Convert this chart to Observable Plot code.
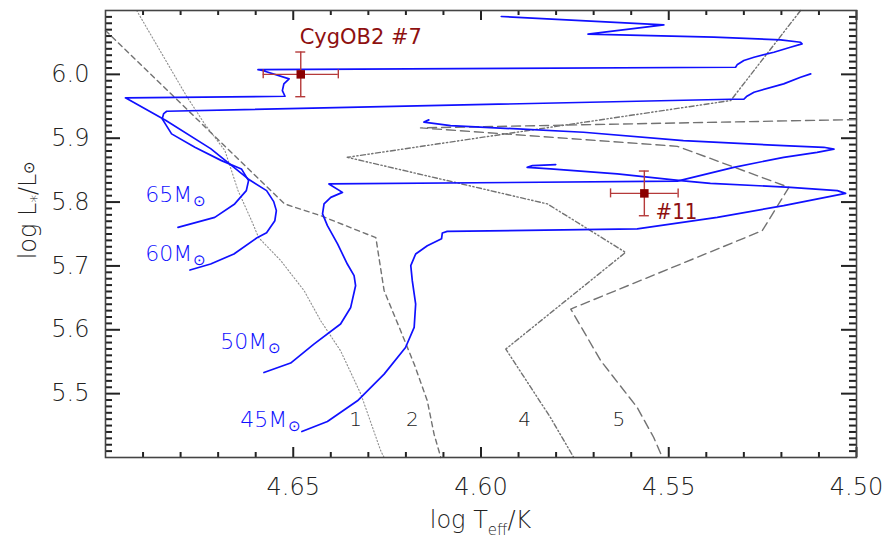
<!DOCTYPE html>
<html><head><meta charset="utf-8">
<script src="https://cdn.jsdelivr.net/npm/d3@7"></script>
<script src="https://cdn.jsdelivr.net/npm/@observablehq/plot@0.6"></script>
<style>html,body{margin:0;padding:0;background:#fff;}</style>
</head><body><div id="chart"></div>
<script>
// ---- data: [log Teff, log L] ----
const track65 = [[4.6807,5.7604],[4.6709,5.7761],[4.6656,5.7971],[4.6625,5.8179],[4.6619,5.8336],[4.6638,5.8519],[4.6691,5.8649],[4.6762,5.8858],[4.6824,5.9068],[4.6849,5.9303],[4.6845,5.9386],[4.6837,5.9422],[4.5335,5.9610],[4.5300,5.9610],[4.5293,5.9652],[4.5273,5.9720],[4.5194,5.9851],[4.5149,5.9955],[4.5122,6.0008]];
const track60 = [[4.6775,5.6936],[4.6720,5.7030],[4.6658,5.7187],[4.6595,5.7447],[4.6571,5.7521],[4.6549,5.7709],[4.6545,5.7866],[4.6552,5.8007],[4.6571,5.8179],[4.6620,5.8362],[4.6720,5.8837],[4.6839,5.9276],[4.6947,5.9632],[4.6522,5.9657],[4.6529,5.9746],[4.6525,5.9851],[4.6511,5.9930],[4.6582,6.0060],[4.6594,6.0075],[4.5322,6.0111],[4.5318,6.0149],[4.5300,6.0216],[4.5273,6.0268],[4.5220,6.0346],[4.5176,6.0425],[4.5145,6.0478],[4.5149,6.0503],[4.5202,6.0541],[4.5380,6.0582],[4.5715,6.0629],[4.5513,6.0776],[4.5946,6.0906]];
const track50 = [[4.6578,5.5331],[4.6507,5.5479],[4.6445,5.5776],[4.6374,5.6090],[4.6347,5.6350],[4.6334,5.6690],[4.6338,5.6847],[4.6356,5.7030],[4.6382,5.7344],[4.6409,5.7631],[4.6422,5.7814],[4.6418,5.7971],[4.6400,5.8074],[4.6369,5.8152],[4.6405,5.8284],[4.5477,5.8328],[4.5327,5.8544],[4.5194,5.8701],[4.5105,5.8779],[4.5060,5.8829],[4.5087,5.8858],[4.5194,5.8884],[4.5461,5.8963],[4.5727,5.9093],[4.6081,5.9198],[4.6152,5.9253],[4.6139,5.9287]];
const track45 = [[4.6477,5.4407],[4.6409,5.4564],[4.6329,5.4888],[4.6258,5.5306],[4.6201,5.5723],[4.6178,5.6037],[4.6174,5.6403],[4.6183,5.6769],[4.6187,5.7004],[4.6174,5.7187],[4.6143,5.7317],[4.6105,5.7427],[4.6103,5.7516],[4.6090,5.7541],[4.5584,5.7579],[4.5371,5.7761],[4.5194,5.7944],[4.5029,5.8137],[4.5051,5.8179],[4.5176,5.8231],[4.5389,5.8293],[4.5468,5.8336],[4.5637,5.8441],[4.5815,5.8519],[4.5877,5.8544],[4.5863,5.8571],[4.5801,5.8587]];
const iso1 = [[4.6917,6.10],[4.6784,5.9657],[4.6736,5.9224],[4.6682,5.8806],[4.6647,5.8179],[4.6611,5.7709],[4.6592,5.7442],[4.6533,5.7082],[4.6471,5.6612],[4.6427,5.6142],[4.6374,5.5672],[4.6320,5.4993],[4.6267,5.4104],[4.6258,5.40]];
const iso2 = [[4.70,6.0687],[4.6523,5.7971],[4.6427,5.7787],[4.6280,5.7442],[4.6258,5.6612],[4.6214,5.5985],[4.6178,5.5463],[4.6143,5.4888],[4.6125,5.4366],[4.6107,5.40]];
const iso4 = [[4.5149,6.10],[4.5335,5.9590],[4.6356,5.8701],[4.5823,5.7971],[4.5615,5.7212],[4.5934,5.5698],[4.5815,5.4626],[4.5753,5.40]];
const iso5 = [[4.50,5.9292],[4.6161,5.9162],[4.5477,5.8873],[4.5180,5.8231],[4.5251,5.7552],[4.5761,5.6325],[4.5681,5.5515],[4.5584,5.4783],[4.5540,5.4313],[4.5517,5.40]];

const massNames = ["65", "60", "50", "45"];
const massLabelT = [4.6769, 4.6769, 4.6569, 4.6516];
const massLabelL = [5.7996, 5.7082, 5.5698, 5.4480];

const isoNames = ["1", "2", "4", "5"];
const isoLabelT = [4.6334, 4.6183, 4.5884, 4.5633];
const isoLabelL = [5.460, 5.460, 5.460, 5.460];

const starNames = ["CygOB2 #7", "#11"];
const starT = [4.648, 4.5565];
const starL = [6.000, 5.8136];
const starErrT = [0.010, 0.009];
const starErrL = [0.035, 0.035];
const starLabelT = [4.6483, 4.5535];
const starLabelL = [6.0478, 5.7736];

const xTickValues = [4.65, 4.60, 4.55, 4.50];
const xMinorTicks = [4.69, 4.68, 4.67, 4.66, 4.64, 4.63, 4.62, 4.61, 4.59, 4.58, 4.57, 4.56, 4.54, 4.53, 4.52, 4.51];
const yTickValues = [5.5, 5.6, 5.7, 5.8, 5.9, 6.0];
const yMinorTicks = [5.41,5.42,5.43,5.44,5.45,5.46,5.47,5.48,5.49,5.51,5.52,5.53,5.54,5.55,5.56,5.57,5.58,5.59,5.61,5.62,5.63,5.64,5.65,5.66,5.67,5.68,5.69,5.71,5.72,5.73,5.74,5.75,5.76,5.77,5.78,5.79,5.81,5.82,5.83,5.84,5.85,5.86,5.87,5.88,5.89,5.91,5.92,5.93,5.94,5.95,5.96,5.97,5.98,5.99,6.01,6.02,6.03,6.04,6.05,6.06,6.07,6.08,6.09];

// ---- layout ----
const W = 886, H = 539, mL = 105, mR = 30, mT = 10, mB = 82;
const xDomain = [4.70, 4.50], yDomain = [5.40, 6.10];
const pxY = (H - mT - mB) / (yDomain[1] - yDomain[0]);
const pxX = (W - mL - mR) / (xDomain[0] - xDomain[1]);
const FONT = "'DejaVu Sans', sans-serif";
const BLUE = "#1010ff";
const DARKRED = "#8b0000";
const ERR = "#b53a3a";
const GREY = "#727272";
const AX = "#222";
const TXT = "#222";

const toRows = (pts, name) => pts.map(([x, y]) => ({x, y, name}));
const tracks = [
  ...toRows(track65, "65"), ...toRows(track60, "60"),
  ...toRows(track50, "50"), ...toRows(track45, "45")
];
const massLabels = massNames.map((n, i) => ({t: n + "M", x: massLabelT[i], y: massLabelL[i]}));
const isoLabels = isoNames.map((n, i) => ({t: n, x: isoLabelT[i], y: isoLabelL[i]}));
const stars = starNames.map((n, i) => ({n, T: starT[i], L: starL[i], eT: starErrT[i], eL: starErrL[i], lx: starLabelT[i], ly: starLabelL[i]}));

const capY = 4.5 / pxY, capX = 5 / pxX;

// tick rows: value + length in px, converted to the other axis' data units
const ticksBottom = [...xMinorTicks.map(v => ({v, l: 5})), ...xTickValues.map(v => ({v, l: 10}))];
const ticksLeft = [...yMinorTicks.map(v => ({v, l: 7})), ...yTickValues.map(v => ({v, l: 15}))];

const plot = Plot.plot({
  width: W, height: H,
  marginLeft: mL, marginRight: mR, marginTop: mT, marginBottom: mB,
  x: {domain: xDomain},
  y: {domain: yDomain},
  style: {fontFamily: FONT, fontSize: "24px", fontWeight: 200, color: TXT, background: "#fff"},
  marks: [
    // inward ticks on all four sides (drawn first, underneath data)
    Plot.ruleX(ticksBottom, {x: "v", y1: d => yDomain[0], y2: d => yDomain[0] + d.l / pxY, stroke: AX, strokeWidth: 2}),
    Plot.ruleX(ticksBottom, {x: "v", y1: d => yDomain[1], y2: d => yDomain[1] - d.l / pxY, stroke: AX, strokeWidth: 2}),
    Plot.ruleY(ticksLeft, {y: "v", x1: d => xDomain[0], x2: d => xDomain[0] - d.l / pxX, stroke: AX, strokeWidth: 2}),
    Plot.ruleY(ticksLeft, {y: "v", x1: d => xDomain[1], x2: d => xDomain[1] + d.l / pxX, stroke: AX, strokeWidth: 2}),
    Plot.line(iso1, {x: d => d[0], y: d => d[1], stroke: "#8f8f8f", strokeWidth: 1.1, strokeDasharray: "1.2,2.2"}),
    Plot.line(iso2, {x: d => d[0], y: d => d[1], stroke: GREY, strokeWidth: 1.4, strokeDasharray: "5,4"}),
    Plot.line(iso4, {x: d => d[0], y: d => d[1], stroke: GREY, strokeWidth: 1.4, strokeDasharray: "5,2.5,1.3,2.5,1.3,2.5"}),
    Plot.line(iso5, {x: d => d[0], y: d => d[1], stroke: GREY, strokeWidth: 1.4, strokeDasharray: "9,5"}),
    Plot.line(tracks, {x: "x", y: "y", z: "name", stroke: BLUE, strokeWidth: 1.7, strokeLinejoin: "round"}),
    // error bars with caps
    Plot.ruleY(stars, {y: "L", x1: d => d.T - d.eT, x2: d => d.T + d.eT, stroke: ERR, strokeWidth: 1.4}),
    Plot.ruleX(stars, {x: "T", y1: d => d.L - d.eL, y2: d => d.L + d.eL, stroke: ERR, strokeWidth: 1.4}),
    Plot.ruleX(stars, {x: d => d.T - d.eT, y1: d => d.L - capY, y2: d => d.L + capY, stroke: ERR, strokeWidth: 1.4}),
    Plot.ruleX(stars, {x: d => d.T + d.eT, y1: d => d.L - capY, y2: d => d.L + capY, stroke: ERR, strokeWidth: 1.4}),
    Plot.ruleY(stars, {y: d => d.L - d.eL, x1: d => d.T - capX, x2: d => d.T + capX, stroke: ERR, strokeWidth: 1.4}),
    Plot.ruleY(stars, {y: d => d.L + d.eL, x1: d => d.T - capX, x2: d => d.T + capX, stroke: ERR, strokeWidth: 1.4}),
    Plot.dot(stars, {x: "T", y: "L", symbol: "square", r: 4.8, fill: DARKRED, stroke: "none"}),
    Plot.text(stars.slice(0, 1), {x: "lx", y: "ly", text: "n", textAnchor: "start", lineAnchor: "bottom", fill: "#8e1010", fontSize: 21, fontFamily: FONT, fontWeight: 400}),
    Plot.text(stars.slice(1), {x: "lx", y: "ly", text: "n", textAnchor: "start", lineAnchor: "bottom", fill: "#8e1010", fontSize: 22, fontFamily: "'DejaVu Sans Condensed', 'DejaVu Sans', sans-serif", fontWeight: 400}),
    Plot.text(massLabels, {x: "x", y: "y", text: "t", textAnchor: "end", lineAnchor: "bottom", fill: BLUE, fontSize: 22, fontFamily: FONT, fontWeight: 200}),
    Plot.text(massLabels, {x: "x", y: "y", text: () => "\u2299", textAnchor: "start", lineAnchor: "bottom", dx: 1, dy: 4, fill: BLUE, fontSize: 15, fontFamily: FONT}),
    Plot.text(isoLabels, {x: "x", y: "y", text: "t", fill: TXT, fontSize: 20, fontFamily: FONT, fontWeight: 200}),
    Plot.frame({stroke: "#444", strokeWidth: 1.6}),
    Plot.axisX({anchor: "bottom", ticks: xTickValues, tickSize: 0, tickPadding: 20, tickFormat: d => d.toFixed(2), label: null, fill: TXT}),
    Plot.axisY({anchor: "left", ticks: yTickValues, tickSize: 0, tickPadding: 16, tickFormat: d => d.toFixed(1), label: null, fill: TXT})
  ]
});

document.getElementById("chart").appendChild(plot);

const svg = d3.select(plot);
// axis titles with sub/superscripts
const xt = svg.append("text")
  .attr("x", mL + (W - mL - mR) / 2).attr("y", 528)
  .attr("text-anchor", "middle").attr("fill", TXT)
  .style("font-family", FONT).style("font-size", "24px").style("font-weight", 200);
xt.append("tspan").text("log T");
xt.append("tspan").attr("dy", 7).style("font-size", "15px").text("eff");
xt.append("tspan").attr("dy", -7).text("/K");

const yt = svg.append("text")
  .attr("transform", "translate(36,210) rotate(-90)")
  .attr("text-anchor", "middle").attr("fill", TXT)
  .style("font-family", FONT).style("font-size", "24px").style("font-weight", 200);
yt.append("tspan").text("log L");
yt.append("tspan").attr("dy", 6).style("font-size", "15px").text("*");
yt.append("tspan").attr("dy", -6).text("/L");
yt.append("tspan").attr("dy", -2).style("font-size", "15px").text("\u2299");
</script>
</body></html>
